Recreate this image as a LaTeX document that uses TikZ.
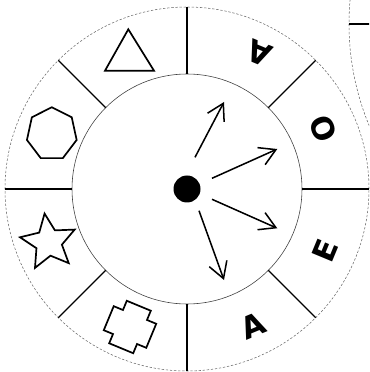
\documentclass[tikz,border=0pt]{standalone}
\usepackage{fontspec}
\setsansfont{DejaVu Sans}
\usetikzlibrary{arrows.meta}

\begin{document}
\begin{tikzpicture}[
    x=0.03cm, y=0.03cm,
    rim/.style={draw=black!60, line width=0.45pt, dash pattern=on 2pt off 1.5pt},
    hubring/.style={draw=black!75, line width=0.5pt},
    sector/.style={line width=1.1pt, black},
    glyph/.style={line width=1.45pt, line join=miter, black},
    pointer/.style={-{Straight Barb[length=0.48cm, width=0.56cm]}, line width=1.3pt},
    letter/.style={font=\fontsize{26}{26}\selectfont\sffamily\bfseries, inner sep=0pt, anchor=center}
]
\useasboundingbox (-187,-183) rectangle (182,189);

% neighbouring wheel, cut off by the page edge
\begin{scope}
    \clip (-187,-183) rectangle (182,189);
    \draw[rim] (427,165) circle (265);
    \coordinate (nbrim) at (162,165);
    \coordinate (nbedge) at (185,165);
    \draw[sector] (nbrim) -- (nbedge);
\end{scope}

% wheel: rim, inner disc and sector dividers
\draw[rim] (0,0) circle (182);
\draw[hubring] (0,0) circle (115);
\foreach \a in {0,45,...,315} {
    \draw[sector] (\a:115) -- (\a:182);
}

% hub
\node[circle, fill=black, minimum size=0.81cm, inner sep=0pt] (hub) at (0,0) {};

% pointers
\foreach \sx/\sy/\ex/\ey [count=\i] in {8/31.7/37/87, 25/10.7/90.3/40, 25/-10.3/90.3/-39.3, 12/-21.7/37/-91} {
    \coordinate (ptail\i) at (\sx,\sy);
    \coordinate (phead\i) at (\ex,\ey);
    \draw[pointer] (ptail\i) -- (phead\i);
}

% letters on the right half
\node[letter, rotate=157.5] (vowelA) at (62:153.6) {A};
\node[letter, rotate=112.5] (vowelO) at (24:149) {O};
\node[letter, rotate=67.5] (vowelE) at (-24.2:151) {E};
\node[letter, rotate=22.5] (vowelAA) at (-64.2:152) {A};

% shapes on the left half
\draw[glyph] (-58.7,159.7) -- (-82,118.3) -- (-33,118.3) -- cycle;
\draw[glyph, shift={(-135.2,55)}, yscale=1.05] (90:25.5) \foreach \k in {1,...,6} { -- (90+\k*360/7:25.5)} -- cycle;
\draw[glyph, shift={(-138.4,-53.3)}] (98:29) \foreach \k in {1,...,9} { -- (98+\k*36:{mod(\k,2)==1 ? 13.5 : 29})} -- cycle;
\draw[glyph, shift={(-57,-138)}, rotate=-22.5]
    (-13,23) -- (13,23) -- (13,13) -- (23,13) -- (23,-13) -- (13,-13) -- (13,-23)
    -- (-13,-23) -- (-13,-13) -- (-23,-13) -- (-23,13) -- (-13,13) -- cycle;

\end{tikzpicture}
\end{document}
